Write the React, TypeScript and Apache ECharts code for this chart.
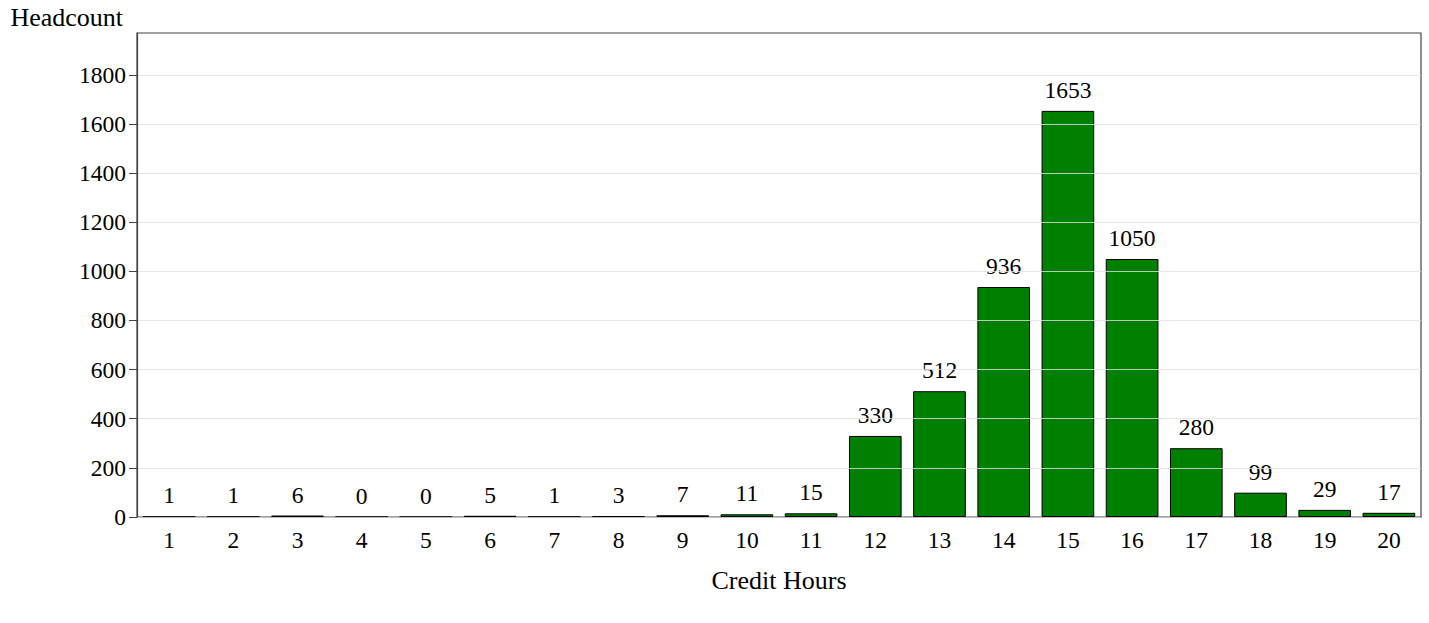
import React, { useEffect, useRef } from "react";
import * as echarts from "echarts";

const categories = ["1","2","3","4","5","6","7","8","9","10","11","12","13","14","15","16","17","18","19","20"];
const headcount = [1, 1, 6, 0, 0, 5, 1, 3, 7, 11, 15, 330, 512, 936, 1653, 1050, 280, 99, 29, 17];
const yTicks = [0, 200, 400, 600, 800, 1000, 1200, 1400, 1600, 1800];

const FONT = "'Liberation Serif', 'Times New Roman', serif";
const NUM = 23.5;
const TXT = 26;

export default function App() {
  const ref = useRef<HTMLDivElement>(null);
  useEffect(() => {
    const chart = echarts.init(ref.current!, null, { renderer: "svg" });
    chart.setOption({
      animation: false,
      textStyle: { fontFamily: FONT },
      grid: {
        left: 137, right: 8, top: 33, bottom: 106,
        show: true, borderColor: "#444", borderWidth: 1.2, backgroundColor: "transparent",
      },
      xAxis: {
        type: "category",
        data: categories,
        name: "Credit Hours",
        nameLocation: "middle",
        nameGap: 50,
        nameTextStyle: { color: "#000", fontSize: TXT, fontFamily: FONT },
        axisLine: { show: true, lineStyle: { color: "#444", width: 1.2 } },
        axisTick: { show: false },
        axisLabel: { color: "#000", fontSize: NUM, fontFamily: FONT, margin: 11 },
      },
      yAxis: {
        type: "value",
        min: 0,
        max: 1970,
        interval: 200,
        z: 3,
        name: "Headcount",
        nameLocation: "end",
        nameGap: 3,
        nameTextStyle: { color: "#000", fontSize: TXT, fontFamily: FONT, align: "right", padding: [0, 14, 0, 0] },
        axisLine: { show: true, lineStyle: { color: "#444", width: 1.2 } },
        axisTick: { show: true, length: 8, customValues: yTicks, lineStyle: { color: "#444" } },
        axisLabel: {
          color: "#000", fontSize: NUM, fontFamily: FONT, margin: 11, customValues: yTicks,
          formatter: (v: number) => String(v),
        },
        splitLine: { show: true, lineStyle: { color: "rgba(225,225,225,0.8)", width: 1 } },
      },
      series: [
        {
          type: "bar",
          data: headcount,
          barCategoryGap: "18%",
          itemStyle: { color: "#008000", borderColor: "#000", borderWidth: 1 },
          label: {
            show: true,
            position: "top",
            distance: 9,
            color: "#000",
            fontSize: NUM,
            fontFamily: FONT,
          },
        },
      ],
    });
    return () => chart.dispose();
  }, []);
  return (
    <div
      ref={ref}
      style={{ position: "absolute", left: 0, top: 0, width: 1429, height: 623, background: "#fff" }}
    />
  );
}
